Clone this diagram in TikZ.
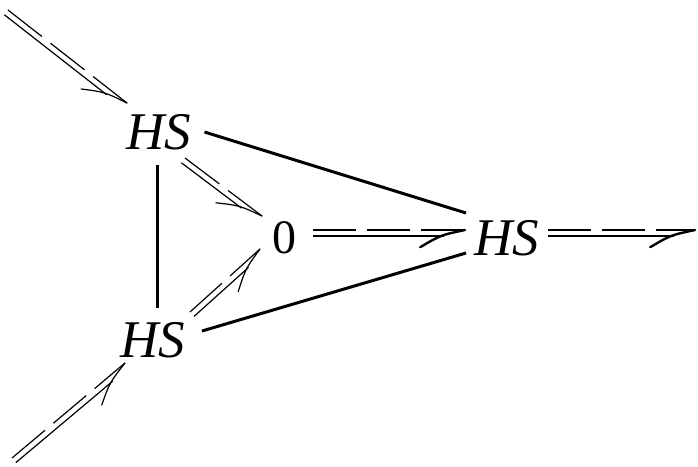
\documentclass[tikz,border=0pt]{standalone}
\usepackage{fontspec}
\setmainfont{Liberation Serif}
\usetikzlibrary{calc}
\tikzset{
  hslabel/.style={inner sep=0pt, font=\fontsize{53}{60}\selectfont\itshape},
  zerolabel/.style={inner sep=0pt, font=\fontsize{48}{52}\selectfont},
  edge/.style={line width=3pt},
}
% #1 line width, #2 start (on dashed line), #3 tip
\newcommand\harp[3][1.2pt]{%
  \coordinate (hB) at ($(#3)!21pt!(#2)$);
  \draw[line width=#1, dash pattern=on 43pt off 11pt] (#2) -- (#3);
  \draw[line width=#1] ($(#2)!6pt!-90:(#3)$) -- ($(hB)!6pt!-90:(#3)$);
  \draw[line width=#1, line cap=round] (#3) .. controls ($(#3)!25pt!12:(#2)$) .. ($(#3)!48pt!21:(#2)$);
}
\begin{document}
\begin{tikzpicture}[x=1pt,y=-1pt]
\useasboundingbox (0,0) rectangle (698,466);
\node[hslabel] (hs1) at (158.5,132.5) {HS};
\node[hslabel] (hs2) at (153,340) {HS};
\node[zerolabel] (zero) at (284,237.5) {0};
\node[hslabel] (hsr) at (507,238) {HS};
% free ends
\coordinate (inA) at (8,10);
\coordinate (inB) at (12,458);
\coordinate (outC) at (695,230);
% arrow end points near nodes
\coordinate (a1t) at ([shift={(-31.5,-29.5)}]hs1.center);
\coordinate (a4t) at ([shift={(-28,23)}]hs2.center);
\coordinate (a2s) at ([shift={(26.5,25.5)}]hs1.center);
\coordinate (a2t) at ([shift={(-22,-21.5)}]zero.center);
\coordinate (a3s) at ([shift={(37,-28)}]hs2.center);
\coordinate (a3t) at ([shift={(-24,11.5)}]zero.center);
\coordinate (a5s) at ([shift={(29,-7.5)}]zero.center);
\coordinate (a5t) at ([shift={(-42,-8)}]hsr.center);
\coordinate (a6s) at ([shift={(41,-8)}]hsr.center);
% solid edges
\draw[edge] ([shift={(-1.5,32.5)}]hs1.center) -- ([shift={(4,-32)}]hs2.center);
\draw[edge] ([shift={(46,-0.5)}]hs1.center) -- ([shift={(-41,-25)}]hsr.center);
\draw[edge] ([shift={(49,-9)}]hs2.center) -- ([shift={(-41,15)}]hsr.center);
% harpoon arrows
\harp{inA}{a1t}
\harp{inB}{a4t}
\harp{a2s}{a2t}
\harp{a3s}{a3t}
\harp[2.4pt]{a5s}{a5t}
\harp[2.4pt]{a6s}{outC}
\end{tikzpicture}
\end{document}
